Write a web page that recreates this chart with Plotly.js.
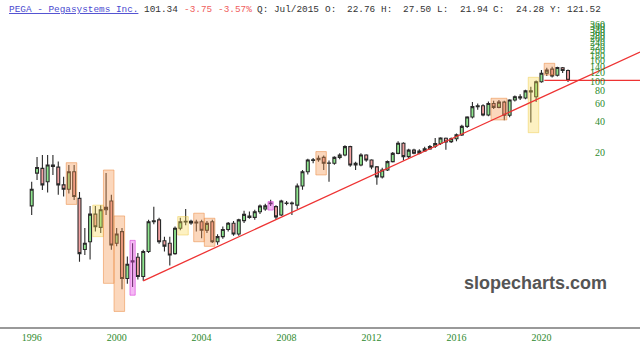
<!DOCTYPE html>
<html><head><meta charset="utf-8">
<script src="https://cdn.plot.ly/plotly-3.0.1.min.js"></script>
<style>html,body{margin:0;padding:0;background:#fff}#chart{width:640px;height:358px}</style>
</head><body><div id="chart"></div><script>
// Quarterly candles, first candle = Q3 1996
const firstYear = 1996, firstQuarter = 3;
const opens  = [5.9,12.4,13.8,10.2,14.4,14.2,9.5,8.6,12.8,7.0, 2.2,2.62,4.9,3.63,5.4,6.6,2.53,3.29,1.14,1.66, 1.84,1.19,2.1,4.12,4.3,2.68,2.53,2.0,3.55,4.1, 4.15,4.0,4.12,3.4,4.12,2.62,2.94,3.46,3.98,3.12, 4.23,4.7,4.55,5.17,5.5,6.2,5.8,4.8,6.3,6.2, 6.0,9.26,12.8,16.5,16.8,17.7,15.5,15.5,17.7,18.7, 22.6,14.9,14.9,18.7,16.7,14.3,11.4,13.3,16.1,19.4, 24.4,18.0,20.9,19.5,20.5,21.5,22.76,24.3,27.3,25.3, 27.0,29.5,35.8,44.3,56.0,57.0,46.3,60.0,55.0,62.0, 46.0,65.0,70.0,68.0,80.0,70.0,98.4,119.0,131.0,114.0, 135.0,127.0];
const highs  = [10.2,17.9,18.7,18.7,18.7,16.1,11.4,14.9,14.9,8.1, 3.57,5.9,5.9,6.0,12.4,7.6,3.57,3.57,1.87,2.53, 2.03,2.19,4.3,5.8,4.5,2.94,2.94,3.7,4.5,5.5, 4.3,4.3,4.3,4.2,4.3,3.1,3.7,4.1,4.2,4.4, 5.3,5.2,5.4,6.1,6.2,6.8,6.0,6.8,6.6,6.5, 9.8,13.3,17.2,17.5,18.5,18.5,16.5,18.2,19.4,23.3, 23.0,16.0,19.4,19.0,17.0,14.6,14.0,16.5,20.0,25.5, 25.0,21.5,21.5,21.3,22.5,23.5,27.5,28.0,27.8,27.8, 30.5,37.0,45.0,62.0,60.0,59.0,63.0,64.0,65.0,64.0, 66.0,72.0,74.0,82.0,88.0,101.0,128.0,135.0,138.0,138.0, 137.0,130.0];
const lows   = [4.8,10.6,8.45,8.0,11.9,7.6,7.3,7.8,6.75,1.66, 1.94,1.75,3.3,3.2,4.8,2.19,2.36,0.89,1.01,0.94, 1.11,1.08,2.03,3.9,2.5,2.1,1.53,1.95,3.4,3.8, 3.85,3.3,2.83,3.2,2.55,2.45,2.8,3.3,3.0,3.0, 4.0,4.4,4.3,4.9,5.3,5.9,4.3,4.7,6.0,4.8, 5.5,8.5,12.0,15.5,16.0,13.3,10.2,15.0,17.0,18.2, 14.3,13.3,14.5,16.0,13.5,9.5,11.0,13.0,15.8,19.0, 16.5,17.5,19.0,19.0,20.0,21.0,21.94,23.5,21.0,24.5, 25.5,28.7,34.5,42.8,52.0,45.0,45.0,53.0,54.0,41.0, 44.0,63.0,65.0,66.0,39.0,62.0,96.0,112.0,108.0,111.0, 120.0,98.0];
const closes = [8.6,14.1,9.5,14.9,14.9,9.5,8.6,12.8,7.3,2.0, 2.53,4.9,3.68,5.4,5.7,2.43,3.12,1.14,1.57,1.70, 1.19,2.10,4.12,4.2,2.62,2.37,1.94,3.55,4.12,4.15, 4.0,4.1,3.4,3.97,2.62,2.94,3.46,3.98,3.12,4.3, 4.87,4.55,5.17,5.88,5.9,6.3,4.6,6.6,6.25,6.3, 9.26,12.8,16.7,16.8,17.3,15.5,15.6,17.7,18.7,22.6, 14.9,15.5,18.7,16.7,14.3,11.4,13.3,16.1,19.4,24.4, 18.0,20.9,19.5,20.5,21.5,22.7,24.28,27.5,25.1,27.0, 29.5,35.8,44.3,56.0,57.0,46.3,60.0,55.0,62.0,46.0, 65.0,70.0,68.0,80.0,78.0,98.4,119.0,128.0,112.0,136.0, 127.0,101.34];

// Axis labels
const yTickValues = [20,40,60,80,100,120,140,160,180,200,220,240,260,280,300,320,340,360,380];
const xTickYears = [1996,2000,2004,2008,2012,2016,2020];

// Trendline (two anchor points) and last-price line
const trendDates = ['2001-10-01','2025-02-20'];
const trendValues = [1.08,193];
const lastPrice = 101.34;
const lastLineDates = ['2020-08-20','2025-02-20'];

// Highlighted pattern boxes: candle index span and price span
const boxFrom = [7,12,14,16,19,28,31,33,45,54,87,94,97];
const boxTo   = [8,13,15,17,19,29,32,34,45,55,89,95,98];
const boxLow  = [6.1,2.94,1.02,0.54,0.78,3.05,2.62,2.36,5.37,11.9,41.4,31,114.6];
const boxHigh = [15.7,6.0,13.3,4.7,2.7,4.63,5.0,4.46,6.5,20.2,67.6,108.7,149.3];
const boxKind = ['o','y','o','o','m','y','o','o','m','o','o','y','o'];

// Header pieces: [character column, text, colour role]
const headerPieces = [
  [0,'PEGA - Pegasystems Inc.','link'],[24,'101.34','txt'],[31,'-3.75','neg'],[37,'-3.57%','neg'],
  [44,'Q: Jul/2015','txt'],[56,'O:','txt'],[60,'22.76','txt'],[66,'H:','txt'],[70,'27.50','txt'],
  [76,'L:','txt'],[80,'21.94','txt'],[86,'C:','txt'],[90,'24.28','txt'],[96,'Y:','txt'],[99,'121.52','txt']
];

function quarterDate(i){
  const q = (firstQuarter-1)+i;
  const y = firstYear+Math.floor(q/4);
  const m = (q%4)*3+1;
  return y+'-'+String(m).padStart(2,'0')+'-01';
}
const dates = opens.map((_,i)=>quarterDate(i));
function shiftDate(d,days){
  return new Date(new Date(d+'T00:00:00Z').getTime()+days*864e5).toISOString().slice(0,10);
}

const traces = [{
  type:'candlestick', x:dates, open:opens, high:highs, low:lows, close:closes,
  increasing:{line:{color:'#2a2a2a',width:1.1}, fillcolor:'#8ee68e'},
  decreasing:{line:{color:'#2a2a2a',width:1.1}, fillcolor:'#f4a2a2'},
  whiskerwidth:0, hoverinfo:'skip', showlegend:false
}];

const kindFill = {o:'rgba(245,150,80,0.38)', y:'rgba(250,215,80,0.35)', m:'rgba(230,70,230,0.38)'};
const kindLine = {o:'rgba(235,140,70,0.55)', y:'rgba(240,205,80,0.5)', m:'rgba(215,60,215,0.6)'};
boxFrom.forEach((f,k)=>{
  const x0 = shiftDate(dates[f],-45), x1 = shiftDate(dates[boxTo[k]],45);
  traces.push({type:'scatter', mode:'lines', x:[x0,x1,x1,x0,x0], y:[boxLow[k],boxLow[k],boxHigh[k],boxHigh[k],boxLow[k]],
    fill:'toself', fillcolor:kindFill[boxKind[k]], line:{color:kindLine[boxKind[k]],width:1}, hoverinfo:'skip', showlegend:false});
});
traces.push({type:'scatter', mode:'lines', x:trendDates, y:trendValues, line:{color:'#ee3333',width:1.3}, hoverinfo:'skip', showlegend:false});
traces.push({type:'scatter', mode:'lines', x:lastLineDates, y:[lastPrice,lastPrice], line:{color:'#ee3333',width:1.3}, hoverinfo:'skip', showlegend:false});

const mono = 'Liberation Mono, Courier New, monospace';
const hy = 1.029, charW = 5.63, hx0 = 7.3;
const roleColor = {link:'#4a4ad0', txt:'#333333', neg:'#f06060'};
const annotations = headerPieces.map(([col,text,role])=>({
  xref:'paper', yref:'paper', x:(hx0+col*charW)/640, y:hy, xanchor:'left', yanchor:'middle', showarrow:false,
  text: role==='link' ? '<span style="text-decoration:underline">'+text+'</span>' : text,
  font:{family:mono, size:9.4, color:roleColor[role]}
}));
annotations.push({xref:'paper', yref:'paper', x:535/640, y:(327-283)/309, xanchor:'center', yanchor:'middle', showarrow:false,
  text:'<b>slopecharts.com</b>', font:{family:'Liberation Sans, Arial, sans-serif', size:18, color:'#555555'}});

const layout = {
  width:640, height:358, margin:{l:0,r:0,t:18,b:31},
  paper_bgcolor:'#ffffff', plot_bgcolor:'#ffffff',
  showlegend:false, boxgap:0.2,
  xaxis:{type:'date', range:['1995-01-03','2025-02-20'], rangeslider:{visible:false},
    tickvals:xTickYears.map(y=>y+'-07-01'), ticktext:xTickYears.map(String),
    tickfont:{family:'Liberation Serif, Times New Roman, serif', size:10, color:'#2e8b2e'},
    showgrid:false, zeroline:false, showline:true, linecolor:'#999999', linewidth:2, ticks:''},
  yaxis:{type:'log', range:[-0.421,2.620], side:'right', ticklabelposition:'inside', ticklabelstandoff:32,
    tickvals:yTickValues, ticktext:yTickValues.map(String),
    tickfont:{family:'Liberation Serif, Times New Roman, serif', size:10, color:'#2e8b2e'},
    showgrid:false, zeroline:false, showline:false, ticks:''},
  annotations:annotations
};
Plotly.newPlot('chart', traces, layout, {staticPlot:true, displayModeBar:false});
</script></body></html>
